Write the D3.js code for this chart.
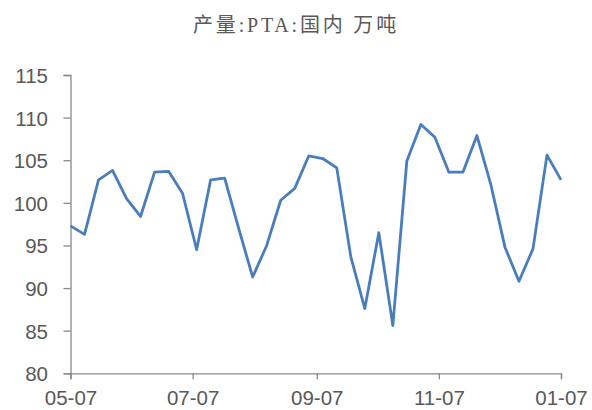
<!DOCTYPE html>
<html><head><meta charset="utf-8">
<script src="https://cdn.jsdelivr.net/npm/d3@7"></script>
<style>html,body{margin:0;padding:0;background:#fff;}svg{display:block;}</style>
</head><body>
<svg id="chart" width="592" height="410"></svg>
<script>
const titleText = "产量:PTA:国内 万吨";
const dates = ["2021-05-07","2021-05-14","2021-05-21","2021-05-28","2021-06-04","2021-06-11","2021-06-18","2021-06-25",
  "2021-07-02","2021-07-09","2021-07-16","2021-07-23","2021-07-30","2021-08-06","2021-08-13","2021-08-20","2021-08-27",
  "2021-09-03","2021-09-10","2021-09-17","2021-09-24","2021-10-01","2021-10-08","2021-10-15","2021-10-22","2021-10-29",
  "2021-11-05","2021-11-12","2021-11-19","2021-11-26","2021-12-03","2021-12-10","2021-12-17","2021-12-24","2021-12-31","2022-01-07"];
const values = [97.3, 96.3, 102.7, 103.8, 100.5, 98.4, 103.6, 103.7, 101.1, 94.5, 102.7, 102.9, 97.0, 91.3, 95.0, 100.3, 101.7,
  105.5, 105.2, 104.1, 93.7, 87.6, 96.5, 85.6, 104.9, 109.2, 107.7, 103.6, 103.6, 107.9, 102.1, 94.8, 90.8, 94.6, 105.6, 102.7];
const xTickDates = ["2021-05-07","2021-07-07","2021-09-07","2021-11-07","2022-01-07"];
const yTicks = [80, 85, 90, 95, 100, 105, 110, 115];

(function () {
const parse = d3.timeParse("%Y-%m-%d");
const data = dates.map((d, i) => ({date: parse(d), value: values[i]}));

const svg = d3.select("#chart");
const mLeft = 70.5, mRight = 561, mTop = 75, mBottom = 373.3;

const x = d3.scaleTime().domain([parse(dates[0]), parse(dates[dates.length-1])]).range([mLeft, mRight]);
const y = d3.scaleLinear().domain([80, 115]).range([mBottom, mTop]);

svg.append("text").attr("x", 296).attr("y", 32).attr("text-anchor", "middle")
  .attr("font-family", "'Liberation Serif','Noto Sans CJK SC',serif").attr("font-size", 20)
  .attr("letter-spacing", "2.8px")
  .attr("fill", "#595959").text(titleText);

const axisColor = "#898989";
const fontFam = "'Liberation Sans','Noto Sans',sans-serif";

const yAxis = svg.append("g").attr("transform", `translate(${mLeft},0)`)
  .call(d3.axisLeft(y).tickValues(yTicks).tickSize(7).tickPadding(15.5).tickFormat(d3.format("d")));
const xAxis = svg.append("g").attr("transform", `translate(0,${mBottom})`)
  .call(d3.axisBottom(x).tickValues(xTickDates.map(parse)).tickSize(6).tickFormat(d3.timeFormat("%m-%d")));

[yAxis, xAxis].forEach(g => {
  g.select(".domain").attr("stroke", axisColor).attr("stroke-width", 1.3);
  g.selectAll(".tick line").attr("stroke", axisColor).attr("stroke-width", 1.3);
  g.selectAll(".tick text").attr("fill", "#595959").attr("font-family", fontFam).attr("font-size", 20.5);
});
yAxis.selectAll(".tick text").attr("dy", "0.36em");
xAxis.selectAll(".tick text").attr("y", 31.5).attr("dy", 0);

const line = d3.line().x(d => x(d.date)).y(d => y(d.value));
svg.append("path").datum(data).attr("d", line).attr("fill", "none")
  .attr("stroke", "#4a7ebb").attr("stroke-width", 2.8).attr("stroke-linejoin", "round");
})();
</script>
</body></html>
